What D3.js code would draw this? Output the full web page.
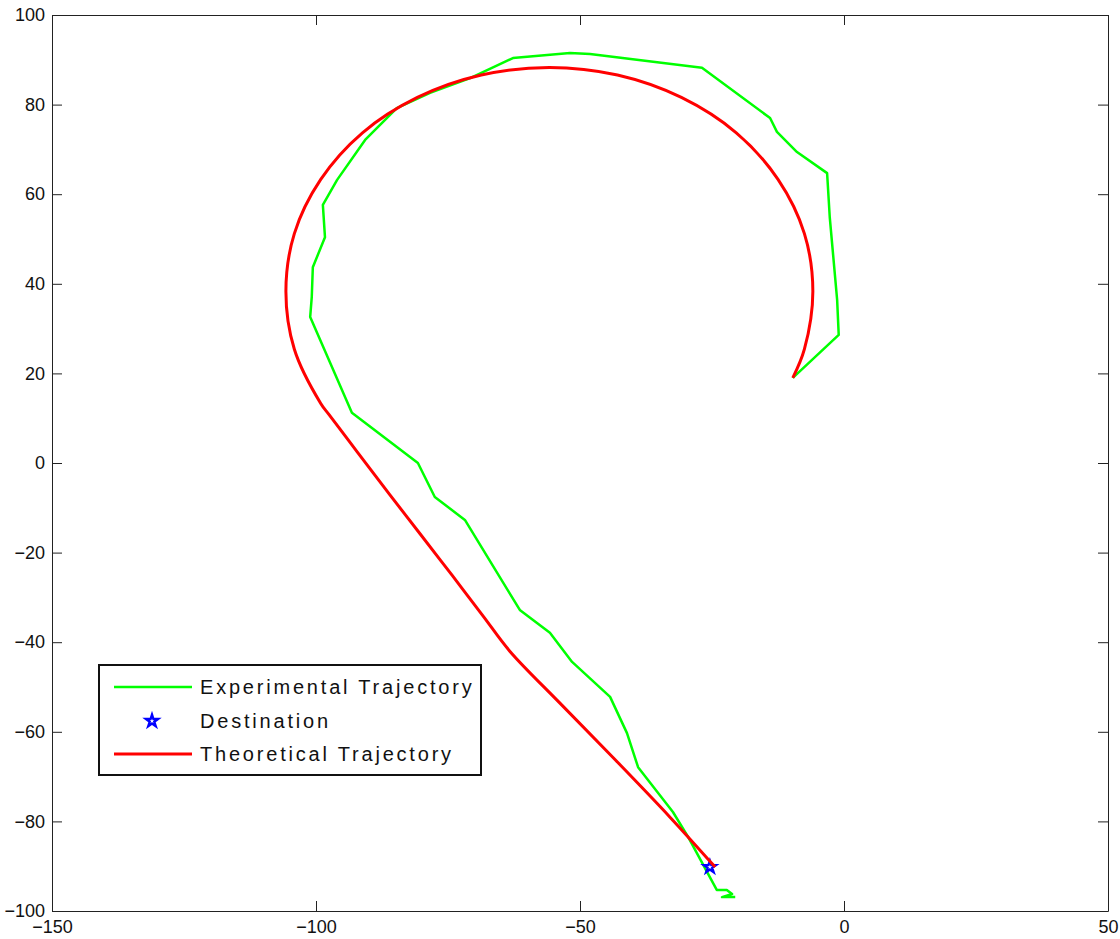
<!DOCTYPE html>
<html>
<head>
<meta charset="utf-8">
<script src="https://cdn.jsdelivr.net/npm/d3@7"></script>
<style>
  body { margin: 0; background: #fff; }
  svg { display: block; font-family: "Liberation Sans", Arial, sans-serif; }
  .axis text { font-size: 18px; fill: #111; }
  .axis line, .axis path { stroke: #222; }
</style>
</head>
<body>
<script>
"use strict"

// experimental trajectory (x, y)
const expX = [-9.7, -1.0, -1.3, -2.7, -3.2, -8.9, -12.7, -14.0, -26.9, -48.1, -51.9, -62.7, -70.8,
   -78.4, -84.7, -90.7, -96.0, -98.7, -98.3, -100.6, -100.8, -101.1, -93.2, -80.7, -77.5, -71.8,
   -61.4, -55.7, -51.5, -44.3, -41.1, -39.0, -32.4, -29.5, -24.1, -22.2, -21.2, -23.1, -20.6]
const expY = [19.0, 28.6, 36.4, 54.9, 64.7, 69.4, 73.9, 77.0, 88.2, 91.3, 91.5, 90.4, 85.9,
   82.6, 79.2, 72.1, 63.2, 57.6, 50.4, 43.7, 37.1, 32.6, 11.2, 0.0, -7.6, -12.7,
   -32.8, -37.9, -44.4, -52.2, -60.3, -67.9, -77.9, -83.5, -95.3, -95.3, -96.2, -96.9, -96.9]

// theoretical trajectory
const theoX = [-9.7, -7.5, -5.9, -7.5, -12.5, -20.4, -30.8, -42.9, -55.8, -68.7, -80.8, -91.2,
   -99.1, -104.1, -105.7, -104.1, -99.1, -97.6, -92.2, -86.0, -80.3, -74.2, -68.2, -63.3,
   -53.8, -43.7, -33.0, -24.4]
const theoY = [19.0, 25.4, 38.3, 51.2, 63.3, 73.7, 81.6, 86.6, 88.3, 86.6, 81.6, 73.7,
   63.3, 51.2, 38.3, 25.4, 13.3, 10.9, 2.5, -7.1, -15.8, -25.1, -34.4, -42.0,
   -53.6, -65.8, -79.0, -90.2]

const destination = [-25.4, -90.2]

const xTicks = [-150, -100, -50, 0, 50]
const yTicks = [-100, -80, -60, -40, -20, 0, 20, 40, 60, 80, 100]

const legendLabels = ['Experimental Trajectory', 'Destination', 'Theoretical Trajectory']

const W = 1120, H = 939
const m = {left: 52, top: 15, right: 12, bottom: 28}
const pw = W - m.left - m.right
const ph = H - m.top - m.bottom

const x = d3.scaleLinear([-150, 50], [0, pw])
const y = d3.scaleLinear([-100, 100], [ph, 0])

const svg = d3.select('body').append('svg')
   .attr('width', W)
   .attr('height', H)

const g = svg.append('g')
   .attr('transform', `translate(${m.left},${m.top})`)

g.append('rect')
   .attr('width', pw)
   .attr('height', ph)
   .attr('fill', '#fff')

const tl = 10
g.append('g').attr('class', 'axis')
   .attr('transform', `translate(0,${ph})`)
   .call(d3.axisBottom(x).tickValues(xTicks).tickSize(-tl).tickSizeOuter(0).tickPadding(9))
g.append('g').attr('class', 'axis')
   .call(d3.axisTop(x).tickValues(xTicks).tickSize(-tl).tickSizeOuter(0).tickFormat(''))
g.append('g').attr('class', 'axis')
   .call(d3.axisLeft(y).tickValues(yTicks).tickSize(-tl).tickSizeOuter(0).tickPadding(7))
g.append('g').attr('class', 'axis')
   .attr('transform', `translate(${pw},0)`)
   .call(d3.axisRight(y).tickValues(yTicks).tickSize(-tl).tickSizeOuter(0).tickFormat(''))
g.selectAll('.axis text').attr('font-family', null).attr('font-size', null)

const line = d3.line()
   .x(d => x(d[0]))
   .y(d => y(d[1]))

g.append('path')
   .datum(d3.zip(expX, expY))
   .attr('d', line)
   .attr('fill', 'none')
   .attr('stroke', '#00ff00')
   .attr('stroke-width', 2.5)
   .attr('stroke-linejoin', 'round')

const star = d3.symbol().type(d3.symbolStar).size(45)

g.append('path')
   .attr('d', star)
   .attr('transform', `translate(${x(destination[0])},${y(destination[1])})`)
   .attr('fill', 'none')
   .attr('stroke', '#0000ff')
   .attr('stroke-width', 2.4)

g.append('path')
   .datum(d3.zip(theoX, theoY))
   .attr('d', line.curve(d3.curveCatmullRom.alpha(0.5)))
   .attr('fill', 'none')
   .attr('stroke', '#ff0000')
   .attr('stroke-width', 3)

// legend
const lg = svg.append('g').attr('transform', 'translate(99,665)')
lg.append('rect')
   .attr('width', 382)
   .attr('height', 110)
   .attr('fill', '#fff')
   .attr('stroke', '#111')
   .attr('stroke-width', 2)

const rowY = [22, 56, 89]
lg.append('line')
   .attr('x1', 15).attr('x2', 93).attr('y1', rowY[0]).attr('y2', rowY[0])
   .attr('stroke', '#00ff00').attr('stroke-width', 2.5)
lg.append('path')
   .attr('d', star)
   .attr('transform', `translate(53,${rowY[1]})`)
   .attr('fill', 'none')
   .attr('stroke', '#0000ff')
   .attr('stroke-width', 2.4)
lg.append('line')
   .attr('x1', 15).attr('x2', 93).attr('y1', rowY[2]).attr('y2', rowY[2])
   .attr('stroke', '#ff0000').attr('stroke-width', 3)

lg.selectAll('text.lbl')
   .data(legendLabels)
   .enter()
   .append('text')
      .attr('class', 'lbl')
      .attr('x', 101)
      .attr('y', (d, i) => rowY[i])
      .attr('dy', '0.35em')
      .attr('font-size', 20)
      .attr('letter-spacing', 2.8)
      .attr('fill', '#111')
      .text(d => d)
</script>
</body>
</html>
